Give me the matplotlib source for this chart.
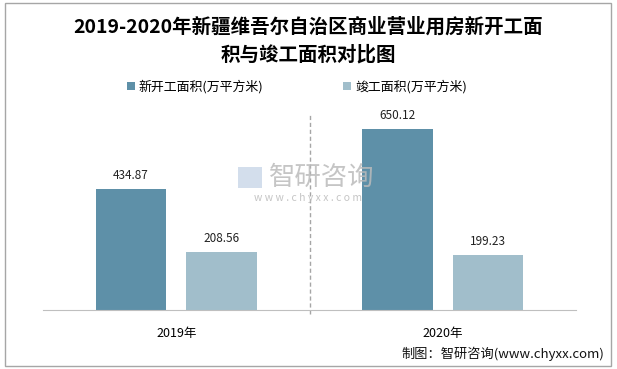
import matplotlib.pyplot as plt
from matplotlib.patches import Rectangle
import numpy as np

plt.rcParams['font.family'] = ['Noto Sans CJK SC', 'DejaVu Sans']

years = ["2019年", "2020年"]
new_started = [434.87, 650.12]
completed = [208.56, 199.23]
series_names = ["新开工面积(万平方米)", "竣工面积(万平方米)"]
colors = ["#5E90A8", "#A1BECB"]

W, H = 617, 369
fig = plt.figure(figsize=(W / 100, H / 100), dpi=100)

# outer gray frame
fig.patches.append(Rectangle((5 / W, 3 / H), 606 / W, 363 / H, transform=fig.transFigure,
                             fill=False, edgecolor="#A6A6A6", linewidth=1))

ax = fig.add_axes([43 / W, 1 - 310 / H, 533 / W, 195 / H])
x = np.arange(len(years))
width = 0.266
offset = 0.17
b1 = ax.bar(x - offset, new_started, width, color=colors[0], label=series_names[0])
b2 = ax.bar(x + offset, completed, width, color=colors[1], label=series_names[1])
for bars, vals in ((b1, new_started), (b2, completed)):
    for rect, v in zip(bars, vals):
        ax.text(rect.get_x() + rect.get_width() / 2, v + 25, f"{v:.2f}",
                ha="center", va="bottom", fontsize=8.5, color="#222222")

ax.set_xlim(-0.5, 1.5)
ax.set_ylim(0, 700)
ax.axvline(0.5, ymin=-0.02, ymax=1, color="#A6A6A6", linestyle=(0, (3, 2)), linewidth=1, clip_on=False)
for side in ("top", "right", "left"):
    ax.spines[side].set_visible(False)
ax.spines["bottom"].set_color("#BFBFBF")
ax.set_yticks([])
ax.set_xticks(x)
ax.set_xticklabels(years, fontsize=9)
ax.tick_params(axis="x", length=0, pad=12)

fig.text(308 / W, 1 - 27 / H, "2019-2020年新疆维吾尔自治区商业营业用房新开工面",
         ha="center", va="center", fontsize=14, fontweight="bold")
fig.text(308 / W, 1 - 55 / H, "积与竣工面积对比图",
         ha="center", va="center", fontsize=14, fontweight="bold")

fig.legend(handles=[b1, b2], labels=series_names, loc="center",
           bbox_to_anchor=(297 / W, 1 - 87 / H), ncol=2, frameon=False, fontsize=9.3,
           handlelength=0.6, handleheight=0.6, handletextpad=0.3, columnspacing=6.2)

# watermark
fig.patches.append(Rectangle((238 / W, 1 - 188 / H), 24 / W, 21 / H, transform=fig.transFigure,
                             facecolor="#C9D6E8", edgecolor="none", alpha=0.8))
fig.text(322 / W, 1 - 177 / H, "智研咨询", ha="center", va="center",
         fontsize=19, color="#BBBBBB", alpha=0.85)
fig.text(308 / W, 1 - 198 / H, "w w w . c h y x x . c o m", ha="center", va="center",
         fontsize=7.5, color="#BBBBBB", alpha=0.85)

fig.text(604 / W, 1 - 354 / H, "制图：智研咨询(www.chyxx.com)", ha="right", va="center",
         fontsize=9.5, color="#111111")

fig.savefig("out.png", dpi=100)
